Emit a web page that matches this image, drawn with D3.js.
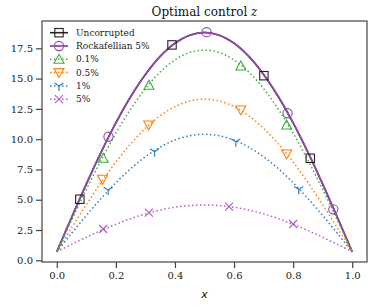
<!DOCTYPE html>
<html><head><meta charset="utf-8">
<script src="https://cdn.jsdelivr.net/npm/d3@7"></script>
<style>body{margin:0;background:#fff}svg{display:block}</style>
</head><body><svg id="c" width="374" height="307"></svg>
<script>
const xs = [0,0.05,0.1,0.15,0.2,0.25,0.3,0.35,0.4,0.45,0.5,0.55,0.6,0.65,0.7,0.75,0.8,0.85,0.9,0.95,1];
const uncorrupted = [0.7,3.53,6.29,8.92,11.34,13.50,15.34,16.83,17.92,18.58,18.80,18.58,17.92,16.83,15.34,13.50,11.34,8.92,6.29,3.53,0.7];
const rockafellian = [0.7,3.53,6.29,8.92,11.34,13.50,15.34,16.83,17.92,18.58,18.82,18.58,17.92,16.83,15.34,13.50,11.34,8.92,6.29,3.53,0.7];
const p01 = [0.7,3.30,5.84,8.26,10.49,12.47,14.17,15.54,16.54,17.15,17.35,17.15,16.54,15.54,14.17,12.47,10.49,8.26,5.84,3.30,0.7];
const p05 = [0.7,2.67,4.59,6.42,8.11,9.61,10.89,11.93,12.68,13.15,13.30,13.15,12.68,11.93,10.89,9.61,8.11,6.42,4.59,2.67,0.7];
const p1 = [0.7,2.22,3.70,5.10,6.40,7.56,8.55,9.34,9.93,10.28,10.40,10.28,9.93,9.34,8.55,7.56,6.40,5.10,3.70,2.22,0.7];
const p5 = [0.7,1.31,1.90,2.46,2.97,3.44,3.83,4.15,4.38,4.52,4.57,4.52,4.38,4.15,3.83,3.44,2.97,2.46,1.90,1.31,0.7];
const mkUncorrupted = [[0.078,5.04],[0.39,17.78],[0.701,15.24],[0.858,8.42]];
const mkRockafellian = [[0.175,10.2],[0.507,18.83],[0.781,12.14],[0.936,4.21]];
const mkP01 = [[0.157,8.42],[0.312,14.45],[0.623,16.04],[0.778,11.17]];
const mkP05 = [[0.155,6.69],[0.311,11.17],[0.623,12.41],[0.778,8.78]];
const mkP1 = [[0.174,5.8],[0.331,8.97],[0.606,9.79],[0.819,5.86]];
const mkP5 = [[0.157,2.58],[0.312,3.93],[0.583,4.43],[0.8,3.0]];
const labels = ["Uncorrupted","Rockafellian 5%","0.1%","0.5%","1%","5%"];
const xTicks = [0,0.2,0.4,0.6,0.8,1.0];
const yTicks = [0,2.5,5,7.5,10,12.5,15,17.5];

const series = [
  {name:labels[0], y:uncorrupted, mk:mkUncorrupted, color:"#222222", dash:null, lw:1.6, marker:"square"},
  {name:labels[1], y:rockafellian, mk:mkRockafellian, color:"#8e4aa8", dash:null, lw:1.8, marker:"circle"},
  {name:labels[2], y:p01, mk:mkP01, color:"#3fae3f", dash:"1.5,2.5", lw:1.5, marker:"triup"},
  {name:labels[3], y:p05, mk:mkP05, color:"#ff7f0e", dash:"1.5,2.5", lw:1.5, marker:"tridown"},
  {name:labels[4], y:p1, mk:mkP1, color:"#2f7fc0", dash:"1.5,2.5", lw:1.5, marker:"y"},
  {name:labels[5], y:p5, mk:mkP5, color:"#b25fc8", dash:"1.5,2.5", lw:1.5, marker:"x"}
];

const L=42, R=367, T=21, B=262;
const x = d3.scaleLinear().domain([-0.05,1.05]).range([L,R]);
const y = d3.scaleLinear().domain([(260.3-262)/12.114, (260.3-21)/12.114]).range([B,T]);
const svg = d3.select("#c");
const font = "DejaVu Serif";

function drawMarker(g, type, cx, cy, color){
  const s = 4.2;
  if(type==="square") g.append("rect").attr("x",cx-s).attr("y",cy-s).attr("width",2*s).attr("height",2*s).attr("fill","none").attr("stroke",color).attr("stroke-width",1.1);
  else if(type==="circle") g.append("circle").attr("cx",cx).attr("cy",cy).attr("r",4.6).attr("fill","none").attr("stroke",color).attr("stroke-width",1.1);
  else if(type==="triup") g.append("path").attr("d",`M${cx},${cy-5}L${cx+5},${cy+4}L${cx-5},${cy+4}Z`).attr("fill","none").attr("stroke",color).attr("stroke-width",1.1);
  else if(type==="tridown") g.append("path").attr("d",`M${cx},${cy+5}L${cx+5},${cy-4}L${cx-5},${cy-4}Z`).attr("fill","none").attr("stroke",color).attr("stroke-width",1.1);
  else if(type==="y") g.append("path").attr("d",`M${cx},${cy}L${cx},${cy+5}M${cx},${cy}L${cx-4.5},${cy-2.8}M${cx},${cy}L${cx+4.5},${cy-2.8}`).attr("fill","none").attr("stroke",color).attr("stroke-width",1.2);
  else if(type==="x") g.append("path").attr("d",`M${cx-4},${cy-4}L${cx+4},${cy+4}M${cx-4},${cy+4}L${cx+4},${cy-4}`).attr("fill","none").attr("stroke",color).attr("stroke-width",1.2);
}

const plot = svg.append("g");
const line = d3.line().x((d,i)=>x(xs[i])).y(d=>y(d)).curve(d3.curveCatmullRom.alpha(0.5));
series.forEach(s=>{
  plot.append("path").attr("d",line(s.y)).attr("fill","none").attr("stroke",s.color)
    .attr("stroke-width",s.lw).attr("stroke-dasharray",s.dash).attr("stroke-linecap","butt");
});
series.forEach(s=>{
  s.mk.forEach(p=>drawMarker(plot, s.marker, x(p[0]), y(p[1]), s.color));
});

// frame
svg.append("rect").attr("x",L).attr("y",T).attr("width",R-L).attr("height",B-T).attr("fill","none").attr("stroke","#444").attr("stroke-width",1.2);

// axes
const xa = svg.append("g").attr("transform",`translate(0,${B})`).call(d3.axisBottom(x).tickValues(xTicks).tickFormat(d3.format(".1f")).tickSize(6).tickPadding(4));
const ya = svg.append("g").attr("transform",`translate(${L},0)`).call(d3.axisLeft(y).tickValues(yTicks).tickFormat(d3.format(".1f")).tickSize(6).tickPadding(3));
[xa,ya].forEach(a=>{
  a.select(".domain").remove();
  a.selectAll("line").attr("stroke","#444").attr("stroke-width",1.2);
  a.selectAll("text").attr("font-family",font).attr("font-size",10).attr("fill","#222");
});

// title
svg.append("text").attr("x",(L+R)/2).attr("y",16).attr("text-anchor","middle").attr("font-family",font).attr("font-size",12).attr("fill","#111")
  .text("Optimal control ").append("tspan").attr("font-style","italic").text("z");
// x label
svg.append("text").attr("x",(L+R)/2).attr("y",298).attr("text-anchor","middle").attr("font-family","DejaVu Sans").attr("font-style","italic").attr("font-size",11).attr("fill","#111").text("x");

// legend
const lg = svg.append("g");
series.forEach((s,i)=>{
  const cy = 32.7 + i*13.3;
  lg.append("line").attr("x1",50).attr("x2",68).attr("y1",cy).attr("y2",cy).attr("stroke",s.color).attr("stroke-width",s.lw).attr("stroke-dasharray",s.dash);
  drawMarker(lg, s.marker, 59, cy, s.color);
  lg.append("text").attr("x",76).attr("y",cy).attr("dy","0.35em").attr("font-family",font).attr("font-size",9).attr("fill","#222").text(s.name);
});
</script></body></html>
